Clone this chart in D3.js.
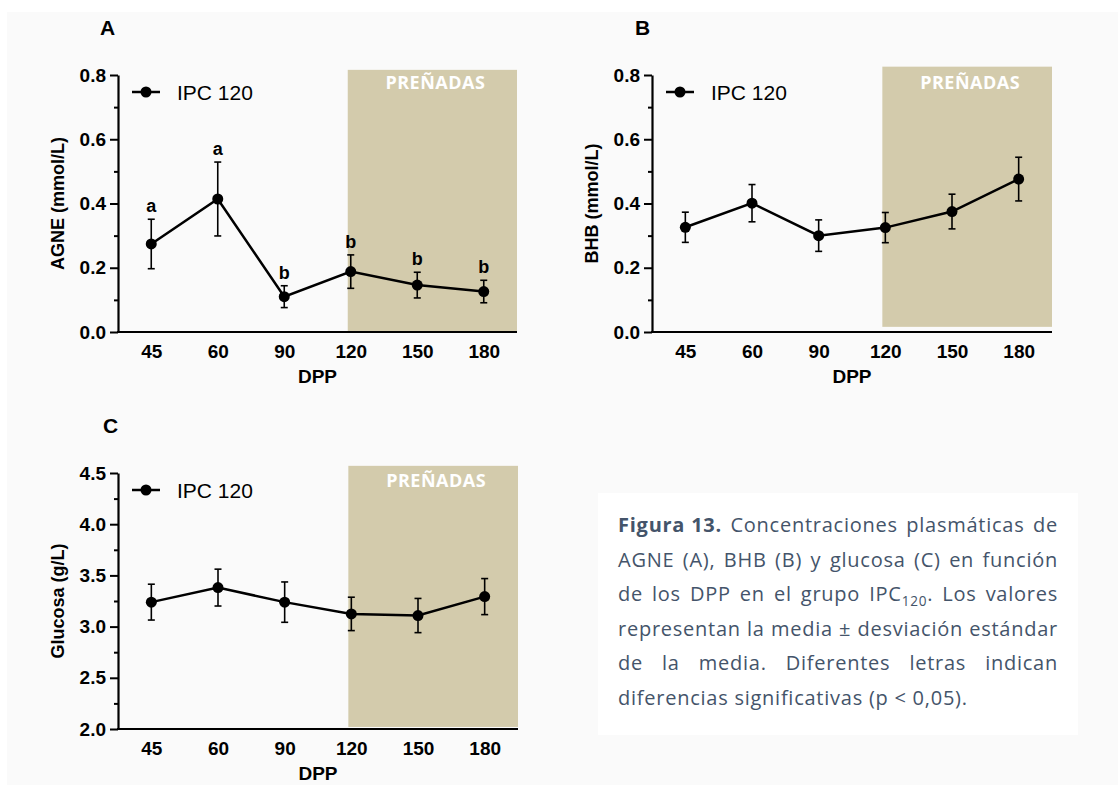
<!DOCTYPE html>
<html>
<head>
<meta charset="utf-8">
<script src="https://cdn.jsdelivr.net/npm/d3@7"></script>
<style>
html,body{margin:0;padding:0;background:#ffffff;}
svg{display:block;}
</style>
</head>
<body>
<svg id="chart" width="1118" height="785"></svg>
<script>
// ---------- DATA ----------
const categories = ["45", "60", "90", "120", "150", "180"];
const agneMean = [0.274, 0.414, 0.110, 0.188, 0.146, 0.126];
const agneErr  = [0.077, 0.115, 0.034, 0.052, 0.040, 0.035];
const agneLetters = ["a", "a", "b", "b", "b", "b"];
const bhbMean = [0.326, 0.401, 0.300, 0.325, 0.375, 0.476];
const bhbErr  = [0.047, 0.058, 0.049, 0.047, 0.054, 0.068];
const glucMean = [3.239, 3.381, 3.239, 3.124, 3.108, 3.293];
const glucErr  = [0.175, 0.180, 0.197, 0.163, 0.167, 0.176];
const yTicksAB = [0.0, 0.2, 0.4, 0.6, 0.8];
const yMinorAB = [0.1, 0.3, 0.5, 0.7];
const yTicksC = [2.0, 2.5, 3.0, 3.5, 4.0, 4.5];
const yMinorC = [2.25, 2.75, 3.25, 3.75, 4.25];
const seriesName = "IPC 120";
const shadeLabel = "PREÑADAS";
const shadeStart = "120";
const captionLines = [
  [{t:"Figura 13.", b:true}, {t:"Concentraciones"}, {t:"plasmáticas"}, {t:"de"}],
  [{t:"AGNE"}, {t:"(A),"}, {t:"BHB"}, {t:"(B)"}, {t:"y"}, {t:"glucosa"}, {t:"(C)"}, {t:"en"}, {t:"función"}],
  [{t:"de"}, {t:"los"}, {t:"DPP"}, {t:"en"}, {t:"el"}, {t:"grupo"}, {t:"IPC", sub:"120", after:"."}, {t:"Los"}, {t:"valores"}],
  [{t:"representan"}, {t:"la"}, {t:"media"}, {t:"±"}, {t:"desviación"}, {t:"estándar"}],
  [{t:"de"}, {t:"la"}, {t:"media."}, {t:"Diferentes"}, {t:"letras"}, {t:"indican"}],
  [{t:"diferencias"}, {t:"significativas"}, {t:"(p"}, {t:"<"}, {t:"0,05)."}]
];

// ---------- STYLE ----------
const AX_FONT = "'Liberation Sans', Arial, sans-serif";
const SHADE = "#d3cbac";
const CAP_COLOR = "#44546a";

const svg = d3.select("#chart");
svg.append("rect").attr("x", 0).attr("y", 0).attr("width", 1118).attr("height", 785).attr("fill", "#ffffff");
svg.append("rect").attr("x", 7).attr("y", 12).attr("width", 1111).attr("height", 773).attr("fill", "#fafafa");

function drawPanel(cfg) {
  const g = svg.append("g");
  const x = d3.scalePoint().domain(categories).range([cfg.left, cfg.right]).padding(0.5);
  const y = d3.scaleLinear().domain(cfg.yDomain).range([cfg.bottom, cfg.top]);

  // shaded region
  const sx = x(shadeStart) - 3;
  g.append("rect")
    .attr("x", sx).attr("y", y(cfg.shadeTop))
    .attr("width", cfg.right - sx).attr("height", y(cfg.shadeBottom) - y(cfg.shadeTop))
    .attr("fill", SHADE);
  g.append("text")
    .attr("x", (sx + cfg.right) / 2 + 3).attr("y", cfg.top + 14)
    .attr("text-anchor", "middle")
    .attr("font-family", "'Open Sans', sans-serif").attr("font-weight", 700)
    .attr("font-size", 18).attr("letter-spacing", 0.5)
    .attr("fill", "#ffffff").text(shadeLabel);

  // y axis minor
  g.append("g").attr("transform", `translate(${cfg.left},0)`)
    .call(d3.axisLeft(y).tickValues(cfg.yMinor).tickSize(4).tickFormat(""))
    .call(a => a.select(".domain").remove())
    .call(a => a.selectAll("line").attr("stroke", "#000").attr("stroke-width", 2));
  // y axis major
  g.append("g").attr("transform", `translate(${cfg.left},0)`)
    .call(d3.axisLeft(y).tickValues(cfg.yTicks).tickSize(8).tickSizeOuter(0).tickPadding(4).tickFormat(d3.format(".1f")))
    .call(a => a.select(".domain").attr("stroke", "#000").attr("stroke-width", 2.2))
    .call(a => a.selectAll("line").attr("stroke", "#000").attr("stroke-width", 2))
    .call(a => a.selectAll("text").attr("font-family", AX_FONT).attr("font-weight", 700).attr("font-size", 19).attr("fill", "#000"));
  // x axis
  g.append("g").attr("transform", `translate(0,${cfg.bottom})`)
    .call(d3.axisBottom(x).tickSize(0).tickSizeOuter(0).tickPadding(13))
    .call(a => a.select(".domain").attr("stroke", "#000").attr("stroke-width", 2.2).attr("d", `M${cfg.left - 1},0H${cfg.right}`))
    .call(a => a.selectAll("text").attr("font-family", AX_FONT).attr("font-weight", 700).attr("font-size", 19).attr("fill", "#000"));

  // axis titles
  g.append("text")
    .attr("transform", `translate(${cfg.left - 60},${(cfg.top + cfg.bottom) / 2}) rotate(-90)`)
    .attr("dy", "0.35em").attr("text-anchor", "middle")
    .attr("font-family", AX_FONT).attr("font-weight", 700).attr("font-size", 18)
    .text(cfg.ylabel);
  g.append("text")
    .attr("x", (cfg.left + cfg.right) / 2).attr("y", cfg.bottom + 51)
    .attr("text-anchor", "middle")
    .attr("font-family", AX_FONT).attr("font-weight", 700).attr("font-size", 19)
    .text("DPP");
  // panel letter
  g.append("text")
    .attr("x", cfg.left + cfg.letterDx).attr("y", cfg.top - 40)
    .attr("font-family", AX_FONT).attr("font-weight", 700).attr("font-size", 21)
    .text(cfg.panel);

  // data
  const pts = categories.map((c, i) => ({c, m: cfg.mean[i], e: cfg.err[i], l: cfg.letters ? cfg.letters[i] : null}));
  const eb = g.append("g").attr("stroke", "#000").attr("stroke-width", 1.6);
  pts.forEach(p => {
    eb.append("line").attr("x1", x(p.c)).attr("x2", x(p.c)).attr("y1", y(p.m - p.e)).attr("y2", y(p.m + p.e));
    eb.append("line").attr("x1", x(p.c) - 3.5).attr("x2", x(p.c) + 3.5).attr("y1", y(p.m + p.e)).attr("y2", y(p.m + p.e));
    eb.append("line").attr("x1", x(p.c) - 3.5).attr("x2", x(p.c) + 3.5).attr("y1", y(p.m - p.e)).attr("y2", y(p.m - p.e));
  });
  g.append("path").datum(pts)
    .attr("fill", "none").attr("stroke", "#000").attr("stroke-width", 2.5)
    .attr("d", d3.line().x(p => x(p.c)).y(p => y(p.m)));
  g.selectAll(null).data(pts).enter().append("circle")
    .attr("cx", p => x(p.c)).attr("cy", p => y(p.m)).attr("r", 5.5).attr("fill", "#000");
  if (cfg.letters) {
    g.selectAll(null).data(pts).enter().append("text")
      .attr("x", p => x(p.c)).attr("y", p => y(p.m + p.e) - 7)
      .attr("text-anchor", "middle")
      .attr("font-family", AX_FONT).attr("font-weight", 700).attr("font-size", 18)
      .text(p => p.l);
  }

  // legend
  const ly = cfg.top + 17;
  g.append("line").attr("x1", cfg.left + 14).attr("x2", cfg.left + 42).attr("y1", ly).attr("y2", ly)
    .attr("stroke", "#000").attr("stroke-width", 2.5);
  g.append("circle").attr("cx", cfg.left + 28).attr("cy", ly).attr("r", 5.5).attr("fill", "#000");
  g.append("text").attr("x", cfg.left + 59).attr("y", cfg.top + 25)
    .attr("font-family", AX_FONT).attr("font-size", 21).text(seriesName);
}

drawPanel({panel: "A", letterDx: -18, left: 118, right: 517, top: 75, bottom: 332, yDomain: [0, 0.8],
  yTicks: yTicksAB, yMinor: yMinorAB, mean: agneMean, err: agneErr, letters: agneLetters,
  ylabel: "AGNE (mmol/L)", shadeTop: 0.816, shadeBottom: 0});
drawPanel({panel: "B", letterDx: -17, left: 652, right: 1052, top: 75, bottom: 332, yDomain: [0, 0.8],
  yTicks: yTicksAB, yMinor: yMinorAB, mean: bhbMean, err: bhbErr, letters: null,
  ylabel: "BHB (mmol/L)", shadeTop: 0.826, shadeBottom: 0.016});
drawPanel({panel: "C", letterDx: -15, left: 118, right: 518, top: 473, bottom: 729, yDomain: [2.0, 4.5],
  yTicks: yTicksC, yMinor: yMinorC, mean: glucMean, err: glucErr, letters: null,
  ylabel: "Glucosa (g/L)", shadeTop: 4.57, shadeBottom: 2.02});

// ---------- CAPTION ----------
svg.append("rect").attr("x", 598).attr("y", 493).attr("width", 480).attr("height", 242).attr("fill", "#ffffff");
const capLeft = 618, capRight = 1058, capFirst = 532, capLH = 34.6;
const capFont = "'Open Sans', sans-serif", capSize = 20, capLS = 0.75;
captionLines.forEach((line, li) => {
  const by = capFirst + li * capLH;
  const words = line.map(w => {
    const t = svg.append("text").attr("y", by)
      .attr("font-family", capFont).attr("font-size", capSize).attr("fill", CAP_COLOR)
      .attr("letter-spacing", capLS)
      .attr("font-weight", w.b ? 700 : 400);
    t.append("tspan").text(w.t);
    if (w.sub) {
      t.append("tspan").attr("font-size", capSize * 0.68).attr("dy", 5).text(w.sub);
      t.append("tspan").attr("dy", -5).text(w.after);
    }
    return {t, w: t.node().getBBox().width};
  });
  const total = d3.sum(words, d => d.w);
  const last = li === captionLines.length - 1;
  const spaceW = capSize * 0.26 + capLS;
  const gap = last ? spaceW : (capRight - capLeft - total) / (words.length - 1);
  let cx = capLeft;
  words.forEach(d => { d.t.attr("x", cx); cx += d.w + gap; });
});
</script>
</body>
</html>
